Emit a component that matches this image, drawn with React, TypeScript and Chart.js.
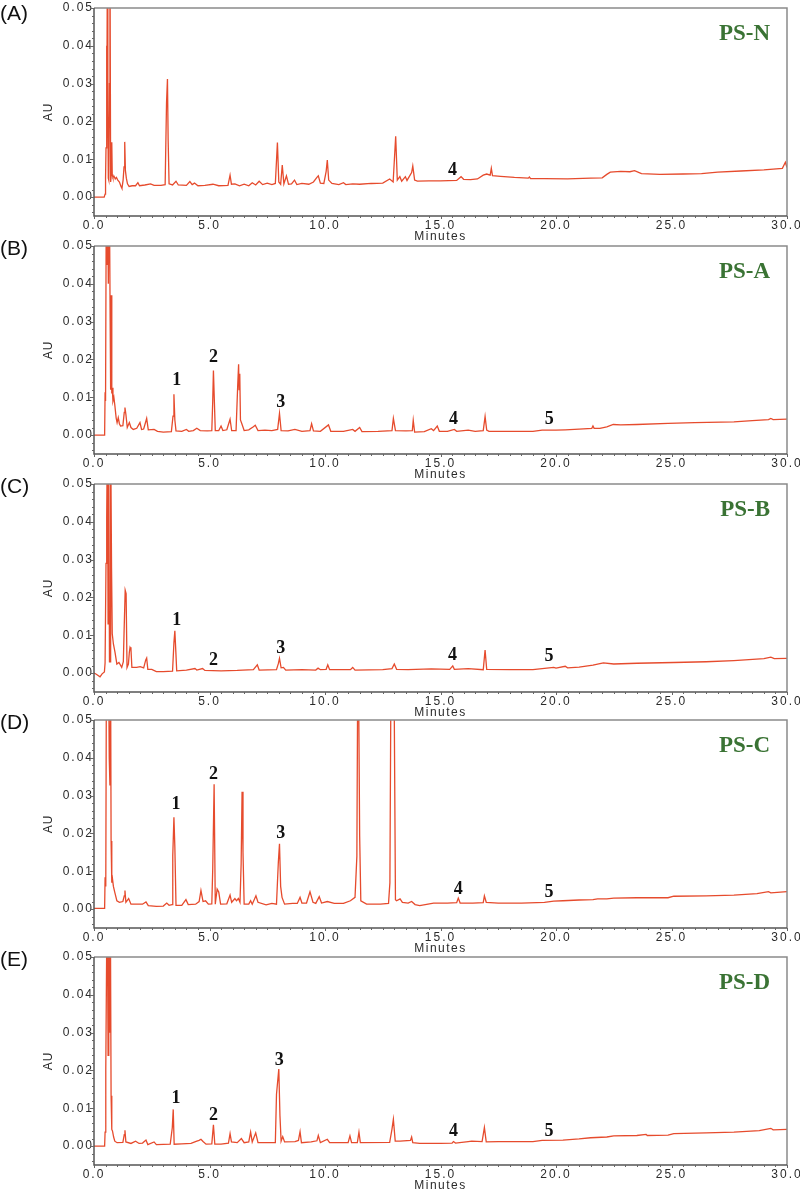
import React, { useEffect, useRef } from "react";
import { Chart, registerables } from "chart.js";

Chart.register(...registerables);

// ---------- DATA ----------
const panelLetters = ["(A)", "(B)", "(C)", "(D)", "(E)"];
const sampleNames = ["PS-N", "PS-A", "PS-B", "PS-C", "PS-D"];
const xTickValues = [0, 5, 10, 15, 20, 25, 30];
const yTickValues = [0, 0.01, 0.02, 0.03, 0.04, 0.05];

// [minutes, AU]
const traceN: number[][] = [
  [0, 0], [0.44, 0], [0.48, 0.0008], [0.5, 0.005], [0.52, 0.013], [0.54, 0.04], [0.56, 0.014], [0.58, 0.065], [0.6, 0.023], [0.62, 0.005],
  [0.64, 0.0045], [0.67, 0.03], [0.69, 0.07], [0.72, 0.004], [0.75, 0.006], [0.77, 0.0145], [0.79, 0.006], [0.82, 0.0052], [0.87, 0.0055],
  [0.92, 0.0048], [0.97, 0.0052], [1.03, 0.0045], [1.1, 0.004], [1.17, 0.0028], [1.21, 0.0023], [1.26, 0.0045], [1.3, 0.008], [1.33, 0.0146],
  [1.36, 0.007], [1.4, 0.005], [1.45, 0.0035], [1.52, 0.0028], [1.65, 0.003], [1.8, 0.003], [1.9, 0.0038], [1.97, 0.003], [2.2, 0.0032],
  [2.45, 0.0035], [2.6, 0.0031], [2.9, 0.0031], [3.08, 0.0033], [3.14, 0.025], [3.18, 0.0312], [3.21, 0.015], [3.25, 0.0035], [3.4, 0.0032],
  [3.55, 0.0042], [3.65, 0.0032], [4.0, 0.0031], [4.15, 0.0041], [4.25, 0.0033], [4.35, 0.0037], [4.5, 0.003], [4.8, 0.0031], [5.15, 0.0034],
  [5.4, 0.003], [5.8, 0.0031], [5.89, 0.0058], [5.95, 0.0034], [6.1, 0.0035], [6.3, 0.003], [6.5, 0.0034], [6.7, 0.003], [6.85, 0.0038],
  [7.0, 0.0032], [7.15, 0.0042], [7.3, 0.0033], [7.5, 0.0037], [7.7, 0.0033], [7.85, 0.0036], [7.94, 0.0144], [8.0, 0.004], [8.08, 0.0034],
  [8.15, 0.0085], [8.22, 0.0035], [8.33, 0.0056], [8.42, 0.0034], [8.55, 0.0035], [8.68, 0.0045], [8.78, 0.0033], [9.0, 0.0036], [9.3, 0.0034],
  [9.5, 0.004], [9.65, 0.0052], [9.71, 0.0056], [9.8, 0.0037], [9.95, 0.0036], [10.05, 0.0068], [10.1, 0.0098], [10.16, 0.0045], [10.3, 0.0036],
  [10.6, 0.0033], [10.8, 0.0038], [10.9, 0.0033], [11.2, 0.0035], [11.5, 0.0034], [12.0, 0.0036], [12.5, 0.0037], [12.8, 0.0048], [12.95, 0.004],
  [13.06, 0.0161], [13.13, 0.0045], [13.24, 0.0054], [13.32, 0.0042], [13.48, 0.0054], [13.55, 0.0044], [13.75, 0.0065], [13.8, 0.0082],
  [13.88, 0.0045], [14.0, 0.0042], [14.5, 0.0043], [15.0, 0.0043], [15.7, 0.0044], [15.89, 0.0054], [16.0, 0.0047], [16.3, 0.0046],
  [16.6, 0.0048], [16.85, 0.0058], [17.0, 0.0061], [17.15, 0.0058], [17.2, 0.0076], [17.25, 0.0057], [17.6, 0.0055], [18.2, 0.0052],
  [18.8, 0.005], [18.85, 0.0053], [18.9, 0.0049], [19.5, 0.0049], [20.5, 0.0048], [21.5, 0.005], [22.0, 0.0051], [22.2, 0.006], [22.35, 0.0066],
  [22.8, 0.0068], [23.2, 0.0067], [23.4, 0.007], [23.7, 0.0062], [24.5, 0.006], [25.5, 0.0061], [26.3, 0.0062], [27.0, 0.0066], [28.0, 0.0069],
  [29.0, 0.0072], [29.8, 0.0076], [29.93, 0.0092], [30.0, 0.0078],
];

const traceA: number[][] = [
  [0, 0], [0.46, 0], [0.48, 0.0113], [0.5, 0.009], [0.53, 0.06], [0.56, 0.045], [0.59, 0.065], [0.62, 0.04], [0.66, 0.07], [0.7, 0.03],
  [0.72, 0.012], [0.74, 0.037], [0.77, 0.011], [0.79, 0.0125], [0.82, 0.009], [0.86, 0.01], [0.9, 0.008], [0.96, 0.0045], [1.0, 0.0033],
  [1.05, 0.0046], [1.1, 0.003], [1.15, 0.0024], [1.25, 0.0025], [1.31, 0.006], [1.34, 0.0073], [1.38, 0.0055], [1.44, 0.002], [1.53, 0.0033],
  [1.6, 0.002], [1.7, 0.0015], [1.85, 0.0018], [1.99, 0.0033], [2.06, 0.0015], [2.15, 0.0016], [2.28, 0.0044], [2.35, 0.0014], [2.6, 0.0015],
  [2.75, 0.001], [3.0, 0.0008], [3.35, 0.0009], [3.42, 0.005], [3.46, 0.0108], [3.5, 0.004], [3.55, 0.0011], [3.8, 0.001], [4.0, 0.0015],
  [4.1, 0.001], [4.3, 0.0012], [4.45, 0.0018], [4.6, 0.0012], [4.9, 0.0011], [5.1, 0.0012], [5.14, 0.009], [5.17, 0.0171], [5.21, 0.009],
  [5.25, 0.0012], [5.4, 0.0012], [5.5, 0.0024], [5.58, 0.0012], [5.75, 0.0014], [5.89, 0.0042], [5.96, 0.0012], [6.15, 0.0012], [6.22, 0.013],
  [6.26, 0.0187], [6.28, 0.012], [6.31, 0.0162], [6.34, 0.004], [6.4, 0.003], [6.5, 0.0012], [6.7, 0.0014], [6.9, 0.0022], [6.98, 0.0026],
  [7.1, 0.0012], [7.4, 0.0013], [7.7, 0.0012], [7.95, 0.0015], [8.03, 0.0057], [8.1, 0.0012], [8.4, 0.0011], [8.7, 0.0015], [9.0, 0.001],
  [9.35, 0.0012], [9.42, 0.003], [9.5, 0.0011], [9.8, 0.001], [10.15, 0.0027], [10.25, 0.001], [10.8, 0.001], [11.2, 0.0015], [11.3, 0.001],
  [11.5, 0.002], [11.6, 0.0009], [12.3, 0.001], [12.9, 0.0012], [12.96, 0.0044], [13.05, 0.0012], [13.5, 0.0011], [13.78, 0.0012],
  [13.82, 0.0039], [13.88, 0.0008], [14.3, 0.0009], [14.6, 0.0017], [14.7, 0.0012], [14.86, 0.0024], [14.95, 0.001], [15.3, 0.001],
  [15.6, 0.0015], [15.7, 0.001], [16.2, 0.0013], [16.5, 0.001], [16.85, 0.0012], [16.93, 0.0049], [17.0, 0.0013], [17.1, 0.001], [18.0, 0.001],
  [19.0, 0.001], [19.4, 0.0013], [20.0, 0.0013], [20.4, 0.0014], [21.0, 0.0016], [21.55, 0.0018], [21.6, 0.0024], [21.65, 0.0018],
  [21.9, 0.0018], [22.2, 0.0022], [22.48, 0.0028], [22.8, 0.0027], [23.5, 0.0028], [24.85, 0.0031], [26.0, 0.0033], [27.7, 0.0035],
  [28.5, 0.0038], [29.2, 0.0041], [29.3, 0.0044], [29.4, 0.0041], [30.0, 0.0042],
];

const traceB: number[][] = [
  [0, 0], [0.1, -0.0003], [0.26, -0.001], [0.35, -0.0002], [0.45, 0.0003], [0.48, 0.0027], [0.52, 0.029], [0.55, 0.041], [0.58, 0.065],
  [0.61, 0.013], [0.64, 0.06], [0.67, 0.003], [0.7, 0.003], [0.72, 0.065], [0.76, 0.0276], [0.79, 0.0104], [0.84, 0.0077], [0.91, 0.0055],
  [0.99, 0.0024], [1.08, 0.0028], [1.2, 0.0015], [1.27, 0.003], [1.3, 0.0104], [1.35, 0.0219], [1.39, 0.021], [1.43, 0.0015], [1.49, 0.0024],
  [1.53, 0.0055], [1.56, 0.0068], [1.6, 0.0063], [1.64, 0.0015], [1.85, 0.0015], [2.0, 0.0017], [2.15, 0.0014], [2.24, 0.0035], [2.28, 0.004],
  [2.33, 0.001], [2.5, 0.001], [2.7, 0.0004], [3.0, 0.0004], [3.4, 0.0005], [3.46, 0.008], [3.5, 0.0112], [3.54, 0.006], [3.58, 0.0006],
  [4.0, 0.0008], [4.37, 0.0012], [4.45, 0.0008], [4.7, 0.0012], [4.8, 0.0007], [5.5, 0.0006], [6.2, 0.0007], [6.9, 0.0009], [7.07, 0.0022],
  [7.15, 0.0008], [7.9, 0.0009], [7.98, 0.0025], [8.03, 0.0039], [8.1, 0.0014], [8.2, 0.0015], [8.3, 0.0008], [9.0, 0.0009], [9.6, 0.0008],
  [9.7, 0.0013], [9.8, 0.0009], [10.05, 0.001], [10.12, 0.0022], [10.2, 0.0009], [11.1, 0.0009], [11.2, 0.0015], [11.3, 0.0008],
  [12.5, 0.0009], [12.9, 0.0012], [13.0, 0.0024], [13.1, 0.001], [13.6, 0.0009], [14.6, 0.0011], [15.4, 0.001], [15.53, 0.0019],
  [15.6, 0.001], [16.2, 0.0012], [16.85, 0.0009], [16.93, 0.0061], [17.0, 0.001], [18.0, 0.0009], [19.0, 0.0009], [19.9, 0.0015],
  [20.0, 0.0013], [20.4, 0.0018], [20.5, 0.0014], [21.0, 0.0016], [21.6, 0.0021], [22.05, 0.0027], [22.5, 0.0024], [23.5, 0.0026],
  [25.1, 0.0028], [26.5, 0.003], [27.7, 0.0033], [29.0, 0.0038], [29.3, 0.0042], [29.45, 0.0038], [30.0, 0.0039],
];

const traceC: number[][] = [
  [0, 0.0002], [0.46, 0.0002], [0.48, 0.0084], [0.51, 0.006], [0.54, 0.07], [0.58, 0.05], [0.62, 0.075], [0.66, 0.04], [0.69, 0.0327],
  [0.72, 0.06], [0.74, 0.018], [0.77, 0.007], [0.8, 0.008], [0.84, 0.006], [0.9, 0.0044], [0.99, 0.0022], [1.1, 0.0018], [1.25, 0.002],
  [1.31, 0.0035], [1.34, 0.0049], [1.38, 0.0018], [1.5, 0.0028], [1.6, 0.0013], [1.85, 0.0013], [2.1, 0.0013], [2.25, 0.0019], [2.35, 0.0009],
  [2.7, 0.0007], [3.0, 0.0008], [3.15, 0.0016], [3.25, 0.001], [3.38, 0.0012], [3.41, 0.0142], [3.46, 0.0243], [3.5, 0.0164], [3.55, 0.001],
  [3.8, 0.001], [3.98, 0.0025], [4.08, 0.0012], [4.4, 0.0013], [4.55, 0.002], [4.63, 0.0049], [4.72, 0.002], [4.83, 0.0022], [4.95, 0.0013],
  [5.1, 0.0014], [5.14, 0.0106], [5.2, 0.033], [5.25, 0.0013], [5.33, 0.0053], [5.4, 0.0045], [5.48, 0.0013], [5.75, 0.0014], [5.89, 0.0037],
  [5.96, 0.0018], [6.1, 0.0028], [6.17, 0.0022], [6.25, 0.0028], [6.32, 0.0018], [6.37, 0.012], [6.41, 0.031], [6.45, 0.015], [6.5, 0.0013],
  [6.7, 0.0013], [6.78, 0.0022], [6.85, 0.0013], [7.01, 0.0035], [7.1, 0.0018], [7.45, 0.0011], [7.7, 0.0015], [7.9, 0.0013], [7.98, 0.0124],
  [8.03, 0.0173], [8.08, 0.006], [8.14, 0.0031], [8.25, 0.0013], [8.6, 0.0015], [8.8, 0.0015], [8.92, 0.0031], [9.0, 0.0016], [9.2, 0.0016],
  [9.35, 0.0046], [9.48, 0.0018], [9.6, 0.0015], [9.75, 0.0033], [9.85, 0.0016], [10.1, 0.002], [10.4, 0.0015], [10.8, 0.0015], [11.1, 0.0022],
  [11.3, 0.0031], [11.38, 0.014], [11.43, 0.08], [11.5, 0.0195], [11.55, 0.0022], [11.8, 0.0013], [12.4, 0.0013], [12.75, 0.0015],
  [12.81, 0.007], [12.87, 0.08], [12.97, 0.08], [13.05, 0.0025], [13.1, 0.0022], [13.25, 0.0027], [13.35, 0.0018], [13.6, 0.0016],
  [13.75, 0.002], [13.9, 0.0012], [14.1, 0.0009], [14.7, 0.0016], [15.3, 0.0016], [15.7, 0.0017], [15.77, 0.0029], [15.85, 0.0016],
  [16.4, 0.0016], [16.85, 0.0017], [16.9, 0.0035], [16.98, 0.0018], [17.5, 0.0016], [18.5, 0.0016], [19.5, 0.0018], [19.9, 0.0021],
  [20.3, 0.0022], [21.0, 0.0024], [21.6, 0.0025], [21.8, 0.0027], [22.2, 0.0027], [22.5, 0.0029], [23.5, 0.003], [24.85, 0.003],
  [25.1, 0.0034], [26.5, 0.0035], [27.7, 0.0037], [28.7, 0.0041], [29.2, 0.0046], [29.3, 0.0043], [30.0, 0.0046],
];

const traceD: number[][] = [
  [0, 0], [0.46, 0], [0.48, 0.0037], [0.51, 0.02], [0.54, 0.045], [0.57, 0.07], [0.61, 0.024], [0.64, 0.065], [0.68, 0.03], [0.71, 0.06],
  [0.74, 0.0133], [0.77, 0.0044], [0.8, 0.004], [0.85, 0.0024], [0.9, 0.0013], [1.0, 0.0009], [1.25, 0.001], [1.31, 0.003], [1.34, 0.0042],
  [1.38, 0.0011], [1.6, 0.0007], [1.8, 0.0013], [1.95, 0.0007], [2.1, 0.0008], [2.25, 0.0016], [2.33, 0.0004], [2.6, 0.0011], [2.7, 0.0004],
  [3.3, 0.0005], [3.39, 0.0049], [3.43, 0.0097], [3.47, 0.0005], [3.8, 0.0006], [4.2, 0.0007], [4.45, 0.0013], [4.55, 0.0015], [4.63, 0.0018],
  [4.72, 0.0012], [4.85, 0.0005], [5.1, 0.0006], [5.17, 0.0056], [5.23, 0.0005], [5.5, 0.0005], [5.82, 0.0008], [5.89, 0.0033], [5.95, 0.0011],
  [6.2, 0.0009], [6.38, 0.002], [6.5, 0.0009], [6.7, 0.0011], [6.78, 0.0037], [6.85, 0.0011], [7.0, 0.0035], [7.1, 0.0009], [7.5, 0.0009],
  [7.85, 0.0009], [7.9, 0.0137], [8.0, 0.0204], [8.05, 0.008], [8.1, 0.0013], [8.17, 0.0025], [8.25, 0.0011], [8.7, 0.0012], [8.85, 0.0015],
  [8.92, 0.0038], [8.98, 0.0009], [9.4, 0.0011], [9.65, 0.0014], [9.71, 0.0028], [9.8, 0.0009], [10.1, 0.0018], [10.2, 0.0009], [11.0, 0.0009],
  [11.08, 0.0027], [11.15, 0.0009], [11.4, 0.0009], [11.47, 0.0037], [11.53, 0.0009], [12.8, 0.001], [12.9, 0.0045], [12.96, 0.0071],
  [13.04, 0.0013], [13.25, 0.0013], [13.7, 0.0015], [13.75, 0.0024], [13.8, 0.0009], [14.1, 0.0007], [15.0, 0.0007], [15.5, 0.0008],
  [15.56, 0.0012], [15.65, 0.0008], [16.2, 0.0012], [16.35, 0.0013], [16.8, 0.0012], [16.9, 0.0049], [16.98, 0.0011], [17.5, 0.0012],
  [19.0, 0.0012], [19.4, 0.0015], [20.3, 0.0016], [21.0, 0.0019], [21.5, 0.0022], [22.2, 0.0024], [22.5, 0.0027], [23.5, 0.0028],
  [23.9, 0.0031], [23.95, 0.0028], [24.85, 0.0029], [25.1, 0.0033], [26.5, 0.0035], [27.7, 0.0037], [28.8, 0.0041], [29.3, 0.0047],
  [29.4, 0.0043], [30.0, 0.0044],
];

// peak number annotations: [label, minutes, AU]
const peaksN: [string, number, number][] = [["4", 15.52, 0.0072]];
const peaksA: [string, number, number][] = [["1", 3.58, 0.0144], ["2", 5.17, 0.0206], ["3", 8.08, 0.0086], ["4", 15.56, 0.0042], ["5", 19.71, 0.0042]];
const peaksB: [string, number, number][] = [["1", 3.58, 0.0139], ["2", 5.17, 0.0033], ["3", 8.08, 0.0065], ["4", 15.52, 0.0048], ["5", 19.7, 0.0043]];
const peaksC: [string, number, number][] = [["1", 3.55, 0.0276], ["2", 5.17, 0.0356], ["3", 8.08, 0.0201], ["4", 15.77, 0.0053], ["5", 19.7, 0.0044]];
const peaksD: [string, number, number][] = [["1", 3.55, 0.0126], ["2", 5.17, 0.0082], ["3", 8.02, 0.0226], ["4", 15.56, 0.004], ["5", 19.7, 0.004]];

const traces = [traceN, traceA, traceB, traceC, traceD];
const peakSets = [peaksN, peaksA, peaksB, peaksC, peaksD];

// ---------- STYLE / LAYOUT ----------
const panelTops = [0, 238, 476, 712, 949];
const CANVAS_W = 800;
const CANVAS_H = 245;
const LINE_COLOR = "#e64b2d";
const TEXT_COLOR = "#2a2a2a";
const NAME_COLOR = "#3a7334";

function makeDecorPlugin(idx: number) {
  return {
    id: "decor" + idx,
    beforeDraw(chart: any) {
      (chart.ctx as any).letterSpacing = "2px";
    },
    afterDraw(chart: any) {
      const ctx = chart.ctx as CanvasRenderingContext2D & { letterSpacing?: string };
      const { left, right, top, bottom } = chart.chartArea;
      const xs = chart.scales.x;
      const ys = chart.scales.y;
      ctx.save();
      // frame
      ctx.lineWidth = 1.5;
      ctx.strokeStyle = "#8a8a8a";
      ctx.beginPath();
      ctx.moveTo(left, top);
      ctx.lineTo(right, top);
      ctx.lineTo(right, bottom);
      ctx.stroke();
      ctx.strokeStyle = "#555";
      ctx.beginPath();
      ctx.moveTo(left, top);
      ctx.lineTo(left, bottom);
      ctx.lineTo(right, bottom);
      ctx.stroke();
      // minor ticks
      ctx.lineWidth = 1;
      ctx.strokeStyle = "#666";
      ctx.beginPath();
      for (let k = -2; k <= 25; k++) {
        const v = k * 0.002;
        const py = Math.round(ys.getPixelForValue(v)) + 0.5;
        const len = k % 5 === 0 ? 4 : 2;
        ctx.moveTo(left - len, py);
        ctx.lineTo(left, py);
      }
      for (let k = 0; k <= 60; k++) {
        const t = k * 0.5;
        const px = Math.round(xs.getPixelForValue(t)) + 0.5;
        const len = k % 10 === 0 ? 3 : 2;
        ctx.moveTo(px, bottom);
        ctx.lineTo(px, bottom + len);
      }
      ctx.stroke();

      // axis titles
      ctx.fillStyle = TEXT_COLOR;
      ctx.letterSpacing = "1px";
      ctx.font = "12px 'Liberation Sans', Arial, sans-serif";
      ctx.textAlign = "center";
      ctx.textBaseline = "middle";
      ctx.save();
      ctx.translate(49, (top + bottom) / 2);
      ctx.rotate(-Math.PI / 2);
      ctx.fillText("AU", 0, 0);
      ctx.restore();
      ctx.letterSpacing = "1.5px";
      ctx.fillText("Minutes", (left + right) / 2, bottom + 21);

      // panel letter
      ctx.letterSpacing = "0px";
      ctx.font = "21px 'Liberation Sans', Arial, sans-serif";
      ctx.fillStyle = "#111";
      ctx.textAlign = "left";
      ctx.fillText(panelLetters[idx], 0, idx === 0 ? 14 : 11);

      // sample name
      ctx.font = "bold 23px 'Liberation Serif', 'Times New Roman', serif";
      ctx.fillStyle = NAME_COLOR;
      ctx.textAlign = "right";
      ctx.fillText(sampleNames[idx], right - 17, top + 26);

      // peak numbers
      ctx.font = "bold 18px 'Liberation Serif', 'Times New Roman', serif";
      ctx.fillStyle = "#111";
      ctx.textAlign = "center";
      for (const [lab, t, v] of peakSets[idx]) {
        ctx.fillText(lab, xs.getPixelForValue(t), ys.getPixelForValue(v));
      }
      ctx.restore();
    },
  };
}

function Panel({ idx }: { idx: number }) {
  const ref = useRef<HTMLCanvasElement>(null);
  useEffect(() => {
    const canvas = ref.current;
    if (!canvas) return;
    const chart = new Chart(canvas, {
      type: "line",
      data: {
        datasets: [
          {
            data: traces[idx].map(([x, y]) => ({ x, y })),
            borderColor: LINE_COLOR,
            borderWidth: 1.3,
            pointRadius: 0,
            tension: 0,
            fill: false,
          },
        ],
      },
      options: {
        responsive: false,
        animation: false,
        devicePixelRatio: 1,
        layout: { padding: { top: 8, right: 13, bottom: 0, left: 0 } },
        plugins: { legend: { display: false }, tooltip: { enabled: false } },
        scales: {
          x: {
            type: "linear",
            min: 0,
            max: 30,
            afterBuildTicks: (s: any) => {
              s.ticks = xTickValues.map((v) => ({ value: v }));
            },
            afterFit: (s: any) => {
              s.height = CANVAS_H - 216;
              s.paddingLeft = 0;
              s.paddingRight = 0;
            },
            grid: { display: false, drawTicks: false },
            border: { display: false },
            ticks: {
              autoSkip: false,
              maxRotation: 0,
              padding: 2,
              color: TEXT_COLOR,
              font: { family: "'Liberation Sans', Arial, sans-serif", size: 12 },
              callback: (v: any) => Number(v).toFixed(1),
            },
          },
          y: {
            type: "linear",
            min: -0.005,
            max: 0.05,
            afterBuildTicks: (s: any) => {
              s.ticks = yTickValues.map((v) => ({ value: v }));
            },
            afterFit: (s: any) => {
              s.width = 94;
              s.paddingTop = 0;
              s.paddingBottom = 0;
            },
            grid: { display: false, drawTicks: false },
            border: { display: false },
            ticks: {
              padding: 0,
              color: TEXT_COLOR,
              font: { family: "'Liberation Sans', Arial, sans-serif", size: 12 },
              callback: (v: any) => Number(v).toFixed(2),
            },
          },
        },
      } as any,
      plugins: [makeDecorPlugin(idx)],
    });
    return () => chart.destroy();
  }, [idx]);
  return (
    <canvas
      ref={ref}
      width={CANVAS_W}
      height={CANVAS_H}
      style={{ position: "absolute", left: 0, top: panelTops[idx], width: CANVAS_W, height: CANVAS_H, display: "block" }}
    />
  );
}

export default function App() {
  return (
    <div style={{ position: "absolute", left: 0, top: 0, width: 800, height: 1195, background: "#fff", overflow: "hidden" }}>
      {[0, 1, 2, 3, 4].map((i) => (
        <Panel key={i} idx={i} />
      ))}
    </div>
  );
}
